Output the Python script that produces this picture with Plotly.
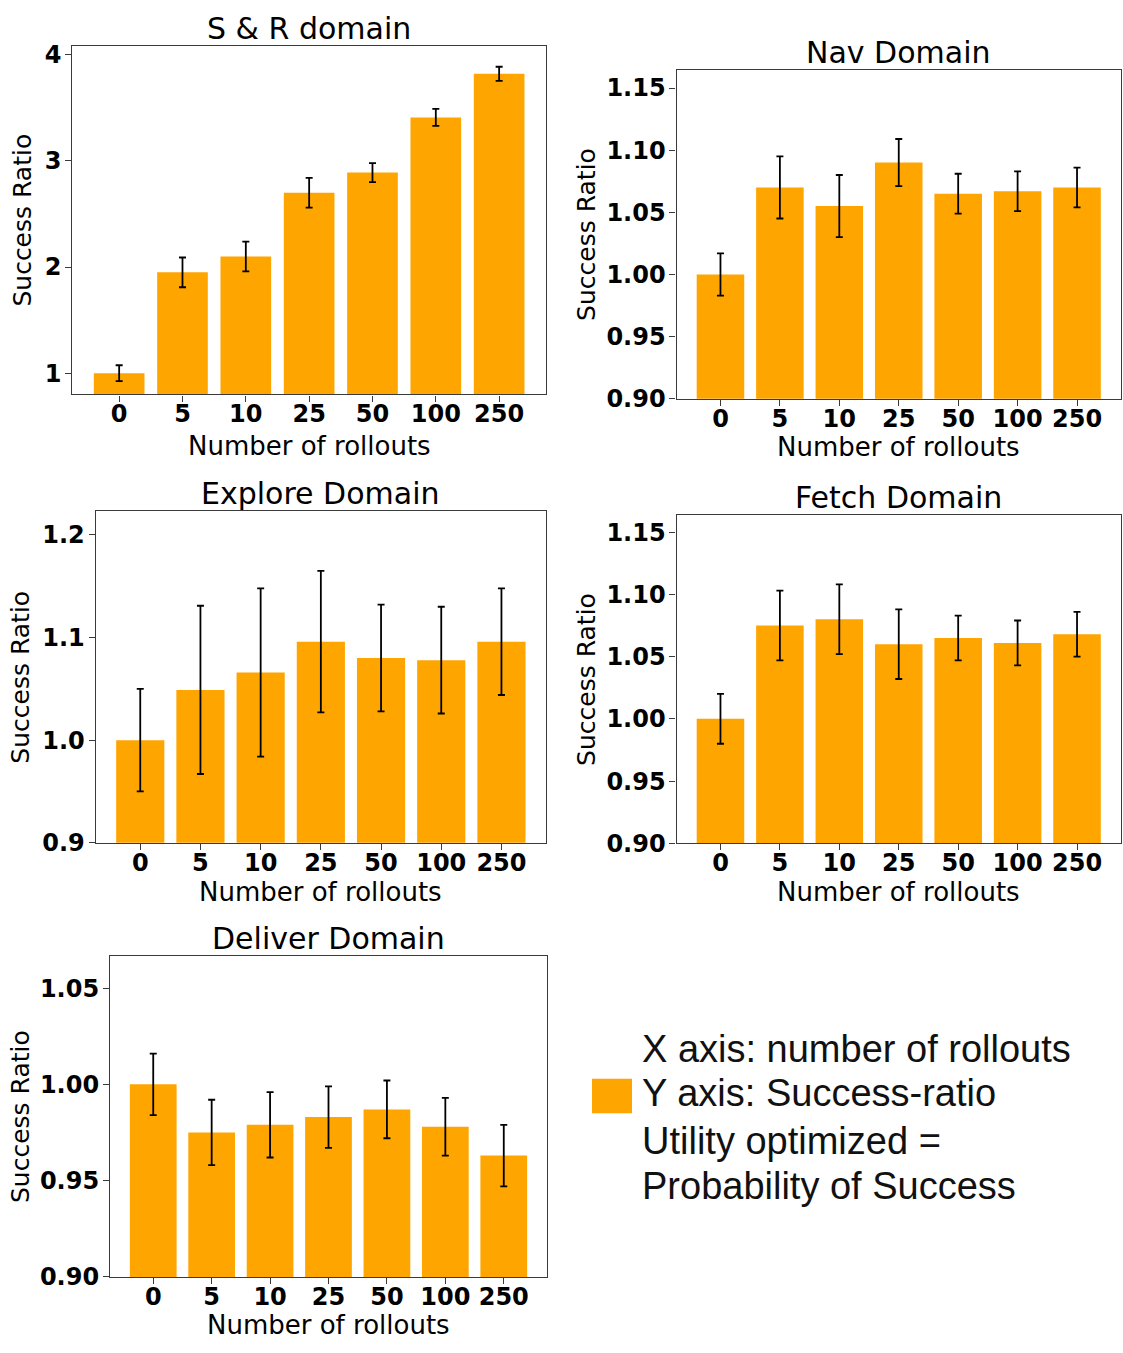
import plotly.graph_objects as go

# ---- data -----------------------------------------------------------------
rollouts = ["0", "5", "10", "25", "50", "100", "250"]

sr_mean = [1.00, 1.95, 2.10, 2.70, 2.89, 3.41, 3.82]
sr_err = [0.075, 0.14, 0.14, 0.14, 0.09, 0.08, 0.067]

nav_mean = [1.000, 1.070, 1.055, 1.090, 1.065, 1.067, 1.070]
nav_err = [0.017, 0.025, 0.025, 0.019, 0.016, 0.016, 0.016]

explore_mean = [1.000, 1.049, 1.066, 1.096, 1.080, 1.078, 1.096]
explore_err = [0.050, 0.082, 0.082, 0.069, 0.052, 0.052, 0.052]

fetch_mean = [1.000, 1.075, 1.080, 1.060, 1.065, 1.061, 1.068]
fetch_err = [0.020, 0.028, 0.028, 0.028, 0.018, 0.018, 0.018]

deliver_mean = [1.000, 0.975, 0.979, 0.983, 0.987, 0.978, 0.963]
deliver_err = [0.016, 0.017, 0.017, 0.016, 0.015, 0.015, 0.016]

sr_ticks = [1, 2, 3, 4]
nav_ticks = [0.90, 0.95, 1.00, 1.05, 1.10, 1.15]
explore_ticks = [0.9, 1.0, 1.1, 1.2]
fetch_ticks = [0.90, 0.95, 1.00, 1.05, 1.10, 1.15]
deliver_ticks = [0.90, 0.95, 1.00, 1.05]

legend_lines = [
    "X axis: number of rollouts",
    "Y axis: Success-ratio",
    "Utility optimized =",
    "Probability of Success",
]

# ---- page geometry (pixels) -------------------------------------------------
W, H = 1123, 1353
BAR_COLOR = "#FFA500"
FONT = "DejaVu Sans"


def px_x(x):
    return x / W


def px_y(y):
    return 1 - y / H


panels = [
    # box is (left, top, right, bottom) of the plotting area in pixels;
    # ty / xty are the vertical centres of the title and x-axis title,
    # ytx is the horizontal centre of the rotated y-axis title
    dict(title="S & R domain", mean=sr_mean, err=sr_err, ticks=sr_ticks, fmt="d",
         floor=0.8, box=(72.3, 41.7, 546, 395), ty=23.5, xty=447, ytx=22.3),
    dict(title="Nav Domain", mean=nav_mean, err=nav_err, ticks=nav_ticks, fmt=".2f",
         floor=0.9, box=(676.5, 66, 1121, 399.3), ty=48.5, xty=448.5, ytx=586.5),
    dict(title="Explore Domain", mean=explore_mean, err=explore_err, ticks=explore_ticks,
         fmt=".1f", floor=0.9, box=(95.7, 513.3, 546, 849.7), ty=495.5, xty=900, ytx=20.7),
    dict(title="Fetch Domain", mean=fetch_mean, err=fetch_err, ticks=fetch_ticks, fmt=".2f",
         floor=0.9, box=(676.5, 517.7, 1121, 850.3), ty=500, xty=900, ytx=586.5),
    dict(title="Deliver Domain", mean=deliver_mean, err=deliver_err, ticks=deliver_ticks,
         fmt=".2f", floor=0.9, box=(110, 964.3, 547, 1290), ty=946.5, xty=1338.5, ytx=20.7),
]

fig = go.Figure()
annotations = []
layout_axes = {}

for i, p in enumerate(panels, start=1):
    xa = "x" if i == 1 else f"x{i}"
    ya = "y" if i == 1 else f"y{i}"
    fig.add_trace(go.Bar(
        x=rollouts, y=p["mean"], xaxis=xa, yaxis=ya, width=0.8,
        marker=dict(color=BAR_COLOR, line=dict(width=0)),
        error_y=dict(type="data", array=p["err"], visible=True,
                     color="black", thickness=1.8, width=3.5),
        showlegend=False,
    ))
    l, t, r, b = p["box"]
    # upper limit: 5 % headroom above the tallest error bar (bars start at 0)
    top = 1.05 * max(m + e for m, e in zip(p["mean"], p["err"]))
    axis_common = dict(
        showline=True, mirror=True, linecolor="#3a3a3a", linewidth=1.2,
        ticks="outside", ticklen=6, tickwidth=1.2, tickcolor="#3a3a3a",
        showgrid=False, zeroline=False,
        tickfont=dict(family=FONT, size=24, color="black", weight="bold"),
    )
    layout_axes["xaxis" if i == 1 else f"xaxis{i}"] = dict(
        axis_common, type="category", domain=[px_x(l), px_x(r)],
        anchor=ya, range=[-0.74, 6.74], ticklabelstandoff=-8,
    )
    layout_axes["yaxis" if i == 1 else f"yaxis{i}"] = dict(
        axis_common, domain=[px_y(b), px_y(t)], anchor=xa,
        range=[p["floor"], top], tickmode="array", tickvals=p["ticks"],
        ticktext=[format(v, p["fmt"]) for v in p["ticks"]], ticklabelstandoff=-1,
    )
    cx = (l + r) / 2
    annotations.append(dict(
        text=p["title"], x=px_x(cx), y=px_y(p["ty"]), xref="paper", yref="paper",
        xanchor="center", yanchor="middle", showarrow=False,
        font=dict(family=FONT, size=30, color="black")))
    annotations.append(dict(
        text="Number of rollouts", x=px_x(cx), y=px_y(p["xty"]), xref="paper",
        yref="paper", xanchor="center", yanchor="middle", showarrow=False,
        font=dict(family=FONT, size=26, color="black")))
    annotations.append(dict(
        text="Success Ratio", x=px_x(p["ytx"]), y=px_y((t + b) / 2), xref="paper",
        yref="paper", xanchor="center", yanchor="middle", textangle=-90,
        showarrow=False, font=dict(family=FONT, size=25, color="black")))

# ---- explanatory key ----------------------------------------------------------
key_y = [1059, 1103, 1152, 1198]
for line, y in zip(legend_lines, key_y):
    annotations.append(dict(
        text=line, x=px_x(640), y=px_y(y), xref="paper", yref="paper",
        xanchor="left", yanchor="middle", showarrow=False,
        font=dict(family="Liberation Sans", size=38, color="#111111")))

shapes = [dict(type="rect", xref="paper", yref="paper",
               x0=px_x(592), x1=px_x(632), y0=px_y(1124), y1=px_y(1089),
               fillcolor=BAR_COLOR, line=dict(width=0))]

fig.update_layout(
    width=W, height=H, margin=dict(l=0, r=0, t=0, b=0),
    paper_bgcolor="white", plot_bgcolor="white",
    annotations=annotations, shapes=shapes, showlegend=False,
    **layout_axes,
)

fig.write_html("out.html")
